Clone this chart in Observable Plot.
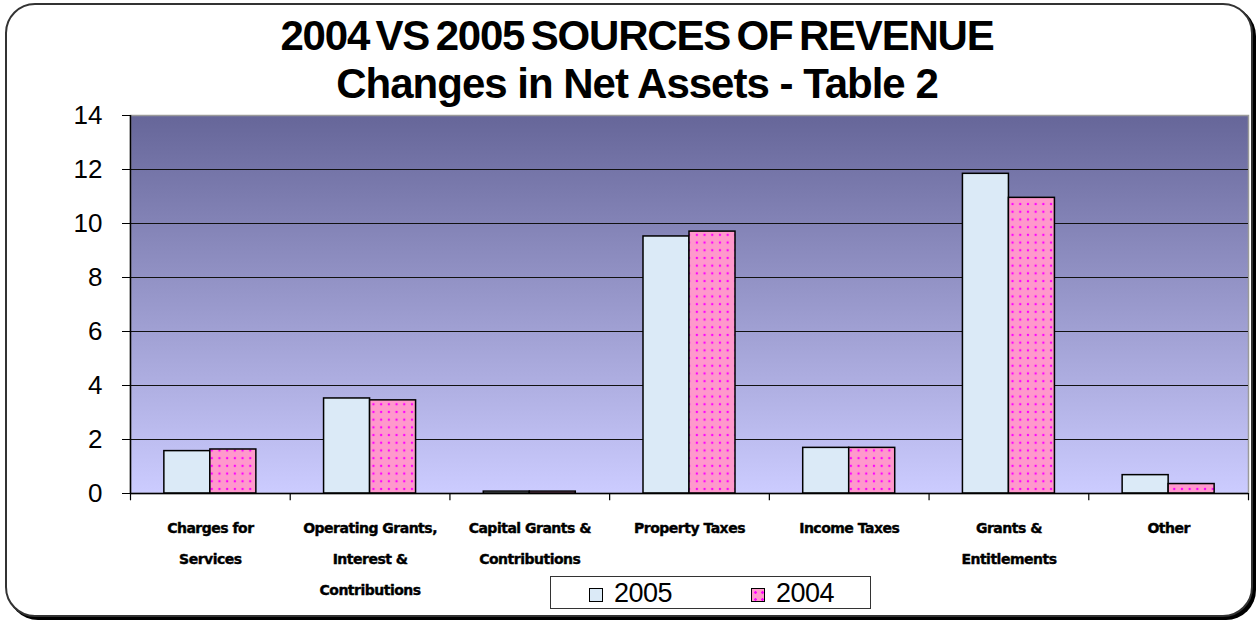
<!DOCTYPE html>
<html>
<head>
<meta charset="utf-8">
<script src="https://cdn.jsdelivr.net/npm/d3@7"></script>
<script src="https://cdn.jsdelivr.net/npm/@observablehq/plot@0.6"></script>
<style>
  html, body { margin: 0; padding: 0; background: #fff; }
  #wrap { position: relative; width: 1258px; height: 620px; overflow: hidden; }
  #box { position: absolute; left: 5px; top: 3px; width: 1244px; height: 610px;
         border: 2px solid #333; border-radius: 30px; box-shadow: 3px 3px 0 #000; background: #fff; }
  #title { position: absolute; left: 8px; top: 12px; width: 1258px; text-align: center;
           font-family: "Liberation Sans", Arial, sans-serif; font-weight: bold; font-size: 42px;
           line-height: 48px; color: #000; }
  #title .l1 { letter-spacing: -1.2px; word-spacing: -4px; }
  #title .l2 { letter-spacing: -1px; }
  #chart { position: absolute; left: 0; top: 0; }
  #chart svg { background: transparent; }
  #legend { position: absolute; left: 550px; top: 576px; width: 319px; height: 31px;
            border: 1px solid #333; background: #fff;
            font-family: "Liberation Sans", Arial, sans-serif; font-size: 27px; color: #000; }
  .sw { position: absolute; top: 11px; width: 12px; height: 12px; border: 1px solid #000; }
  .lt { position: absolute; top: 0; line-height: 33px; letter-spacing: -0.5px; }
</style>
</head>
<body>
<div id="wrap">
  <div id="box"></div>
  <div id="title"><div class="l1">2004 VS 2005 SOURCES OF REVENUE</div><div class="l2">Changes in Net Assets - Table 2</div></div>
  <div id="chart"></div>
  <div id="legend"></div>
</div>
<script>
// ---- data ----
const categories = [
  "Charges for Services",
  "Operating Grants, Interest & Contributions",
  "Capital Grants & Contributions",
  "Property Taxes",
  "Income Taxes",
  "Grants & Entitlements",
  "Other"
];
const categoryLabels = [
  "Charges for\nServices",
  "Operating Grants,\nInterest &\nContributions",
  "Capital Grants &\nContributions",
  "Property Taxes",
  "Income Taxes",
  "Grants &\nEntitlements",
  "Other"
];
const values2005 = [1.57, 3.52, 0.07, 9.52, 1.69, 11.84, 0.68];
const values2004 = [1.63, 3.45, 0.07, 9.70, 1.69, 10.95, 0.35];
const seriesNames = ["2005", "2004"];
const yTicks = [0, 2, 4, 6, 8, 10, 12, 14];
const gridTicks = [2, 4, 6, 8, 10, 12];

// ---- layout ----
const W = 1258, H = 620;
const mL = 130, mR = 10, mT = 115, mB = 127;
const bw = (W - mL - mR) / categories.length;
const barW = 46;

const rows2005 = categories.map((c, i) => ({category: c, value: values2005[i]}));
const rows2004 = categories.map((c, i) => ({category: c, value: values2004[i]}));

const fill2005 = "#dbeaf7";

const chart = Plot.plot({
  width: W, height: H,
  marginLeft: mL, marginRight: mR, marginTop: mT, marginBottom: mB,
  style: {background: "transparent", overflow: "visible"},
  x: {domain: categories, padding: 0, round: false, axis: null},
  y: {domain: [0, 14], axis: null},
  marks: [
    Plot.frame({fill: "url(#bggrad)", stroke: "#9a9a9a", strokeWidth: 1.5}),
    Plot.ruleY(gridTicks, {stroke: "#111", strokeWidth: 1}),
    Plot.barY(rows2005, {x: "category", y: "value", fill: fill2005, stroke: "#000", strokeWidth: 1.5,
      insetLeft: bw / 2 - barW, insetRight: bw / 2}),
    Plot.barY(rows2004, {x: "category", y: "value", fill: "url(#dots)", stroke: "#000", strokeWidth: 1.5,
      insetLeft: bw / 2, insetRight: bw / 2 - barW}),
    Plot.ruleY([0], {stroke: "#000", strokeWidth: 1.5}),
    Plot.ruleX([categories[0]], {x: d => d, dx: -bw / 2, stroke: "#000", strokeWidth: 1.5}),
    Plot.ruleX(categories, {x: d => d, dx: -bw / 2, y1: 0, y2: -0.27, stroke: "#000", strokeWidth: 1.2}),
    Plot.ruleX([categories[categories.length - 1]], {x: d => d, dx: bw / 2, y1: 0, y2: -0.27, stroke: "#000", strokeWidth: 1.2}),
    Plot.axisY({ticks: yTicks, tickSize: 8, tickFormat: () => "", label: null, stroke: "#000"}),
    Plot.text(yTicks, {y: d => d, frameAnchor: "left", dx: -28, textAnchor: "end", text: d => String(d),
      fontSize: 26, fontFamily: "Liberation Sans, Arial, sans-serif", fill: "#000"}),
    Plot.text(categories, {x: d => d, y: 0, text: (d, i) => categoryLabels[i], dy: 18,
      lineAnchor: "top", lineHeight: 2.2, fontSize: 14, fontWeight: "bold",
      fontFamily: "DejaVu Sans, sans-serif", fill: "#000", stroke: "#000", strokeWidth: 0.4})
  ]
});

// category labels slightly condensed
d3.select(chart).selectAll('g[aria-label="text"]').filter((d, i) => i === 1).style("letter-spacing", "-0.5px");

// defs: gradient and dot pattern
const svg = d3.select(chart);
const defs = svg.insert("defs", ":first-child");
const grad = defs.append("linearGradient").attr("id", "bggrad")
  .attr("x1", 0).attr("y1", 0).attr("x2", 0).attr("y2", 1);
grad.append("stop").attr("offset", "0%").attr("stop-color", "#666699");
grad.append("stop").attr("offset", "100%").attr("stop-color", "#ccccff");
const pat = defs.append("pattern").attr("id", "dots").attr("patternUnits", "userSpaceOnUse")
  .attr("width", 7.7).attr("height", 7.7);
pat.append("rect").attr("width", 7.7).attr("height", 7.7).attr("fill", "#ff99cc");
pat.append("circle").attr("cx", 3.85).attr("cy", 3.85).attr("r", 1.2).attr("fill", "#ff00ff");

document.getElementById("chart").appendChild(chart);

// legend
const legend = document.getElementById("legend");
const legendItems = [
  {name: seriesNames[0], sw: 38, tx: 63, bg: fill2005},
  {name: seriesNames[1], sw: 200, tx: 225, bg: "#ff99cc"}
];
legendItems.forEach((it, i) => {
  const s = document.createElement("div");
  s.className = "sw";
  s.style.left = it.sw + "px";
  s.style.background = it.bg;
  if (i === 1) {
    s.style.backgroundImage = "radial-gradient(circle, #ff00ff 1.2px, transparent 1.5px)";
    s.style.backgroundSize = "7px 7px";
  }
  legend.appendChild(s);
  const t = document.createElement("span");
  t.className = "lt";
  t.style.left = it.tx + "px";
  t.textContent = it.name;
  legend.appendChild(t);
});
</script>
</body>
</html>
